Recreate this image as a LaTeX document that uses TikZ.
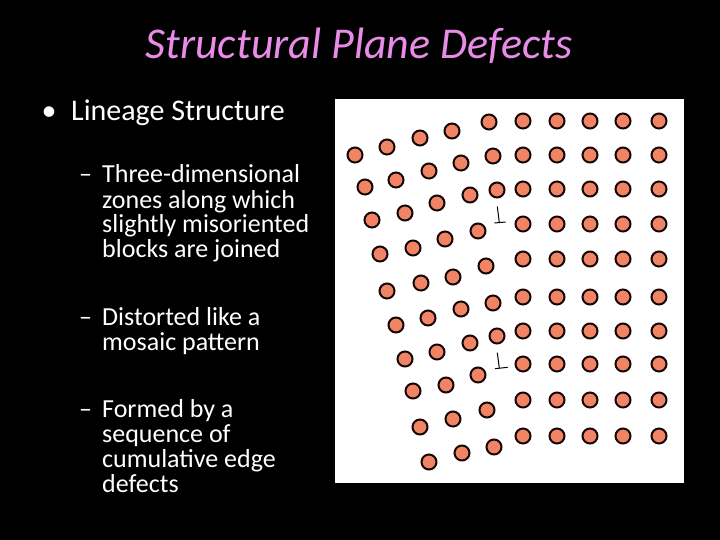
\documentclass[tikz,border=0pt]{standalone}
\usepackage{fontspec}
\setmainfont{Carlito}
\definecolor{titlecol}{RGB}{232,140,232}
\definecolor{atomfill}{RGB}{242,132,102}
\definecolor{atomline}{RGB}{20,5,5}
\tikzset{
  atom/.style={circle,draw=atomline,fill=atomfill,line width=2pt,minimum size=15pt,inner sep=0pt},
  txt/.style={anchor=base west,text=white,inner sep=0pt,font=\fontsize{26}{25}\selectfont},
  lvlone/.style={anchor=base west,text=white,inner sep=0pt,font=\fontsize{30}{30}\selectfont},
  disl/.style={draw=black,line width=1pt}
}
\begin{document}
\begin{tikzpicture}[x=1pt,y=-1pt]
\fill[black] (0,0) rectangle (720,540);
\useasboundingbox (0,0) rectangle (720,540);
\node[anchor=base,text=titlecol,inner sep=0pt,font=\fontsize{44}{50}\selectfont\itshape] (title) at (359,59) {Structural Plane Defects};
% bullets
\node[lvlone,anchor=base] (b1) at (49,121) {•};
\node[lvlone] (l1) at (71,121) {Lineage Structure};
\node[txt] (d1) at (79,183) {–};
\node[txt] (s1a) at (102,183) {Three-dimensional};
\node[txt] (s1b) at (102,208) {zones along which};
\node[txt] (s1c) at (102,233) {slightly misoriented};
\node[txt] (s1d) at (102,258) {blocks are joined};
\node[txt] (d2) at (79,325) {–};
\node[txt] (s2a) at (102,325) {Distorted like a};
\node[txt] (s2b) at (102,350) {mosaic pattern};
\node[txt] (d3) at (79,417) {–};
\node[txt] (s3a) at (102,417) {Formed by a};
\node[txt] (s3b) at (102,442) {sequence of};
\node[txt] (s3c) at (102,467) {cumulative edge};
\node[txt] (s3d) at (102,492) {defects};
% picture box
\fill[white] (335,99) rectangle (684,483);
% right regular grid
\foreach \y [count=\r] in {121,155,189,224,259,297,331,364,400,436}{
  \foreach \x [count=\c] in {523,557,590,623,659}{
    \node[atom] (g\r-\c) at (\x,\y) {};
  }
}
% rotated left grain
\foreach \p [count=\i] in {
  {355,155},{387,147},{420,138},{452,131},{489,122},
  {365,187},{396,180},{429,171},{461,163},{493,156},
  {372,220},{405,213},{437,203},{470,195},{497,190},
  {380,254},{413,248},{445,239},{478,231},
  {387,291},{421,283},{453,277},{486,266},
  {396,325},{428,318},{461,309},{493,303},
  {405,359},{437,352},{470,343},{497,336},
  {413,391},{446,385},{478,375},
  {420,427},{453,419},{487,410},
  {429,462},{462,453},{494,447}}{
  \node[atom] (r\i) at (\p) {};
}
% edge dislocations
\draw[disl] (497.3,206.5) -- (499.3,222.5);
\draw[disl] (494.3,223) -- (505.7,222);
\draw[disl] (497.3,352.7) -- (499.3,368);
\draw[disl] (495,368.7) -- (507.7,367.3);
\end{tikzpicture}
\end{document}
